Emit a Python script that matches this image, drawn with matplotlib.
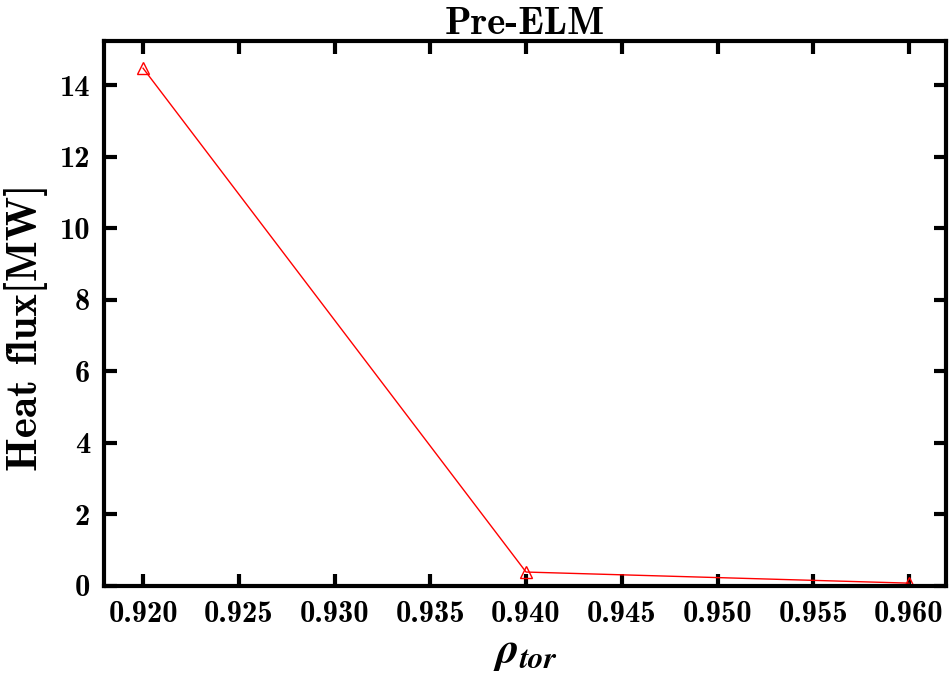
import matplotlib
matplotlib.use("Agg")
import matplotlib.pyplot as plt
from matplotlib.ticker import FuncFormatter, MultipleLocator

plt.rcParams['mathtext.fontset'] = 'stix'
plt.rcParams['font.family'] = ['cmb10', 'DejaVu Serif']

rho = [0.92, 0.94, 0.96]
heat_flux = [14.47, 0.39, 0.08]

fig = plt.figure(figsize=(9.49, 6.73), dpi=100)
ax = fig.add_axes([104/949, 1-586/673, (946-104)/949, (586-41)/673])

ax.plot(rho, heat_flux, color='red', lw=1.0, marker='^', markersize=8,
        markerfacecolor='none', markeredgecolor='red', markeredgewidth=1.0)

ax.set_xlim(0.91796, 0.96193)
ax.set_ylim(0, 15.23)
ax.xaxis.set_major_locator(MultipleLocator(0.005))
ax.yaxis.set_major_locator(MultipleLocator(2))
ax.xaxis.set_major_formatter(FuncFormatter(lambda v, p: '%.3f' % v))
ax.yaxis.set_major_formatter(FuncFormatter(lambda v, p: '%d' % round(v)))

for s in ax.spines.values():
    s.set_linewidth(3)
ax.tick_params(which='major', direction='in', length=9, width=3,
               top=True, right=True, labelsize=22)
ax.tick_params(axis='x', pad=11)
ax.tick_params(axis='y', pad=10)

ax.set_title('Pre-ELM', fontsize=28, pad=5)
ax.set_ylabel('Heat flux[MW]', fontsize=31)
ax.yaxis.set_label_coords(-0.066, 0.475)
ax.set_xlabel(r'$\mathbfit{\rho}_{\mathbfit{tor}}$', fontsize=32, labelpad=4)

fig.savefig('out.png', dpi=100)
